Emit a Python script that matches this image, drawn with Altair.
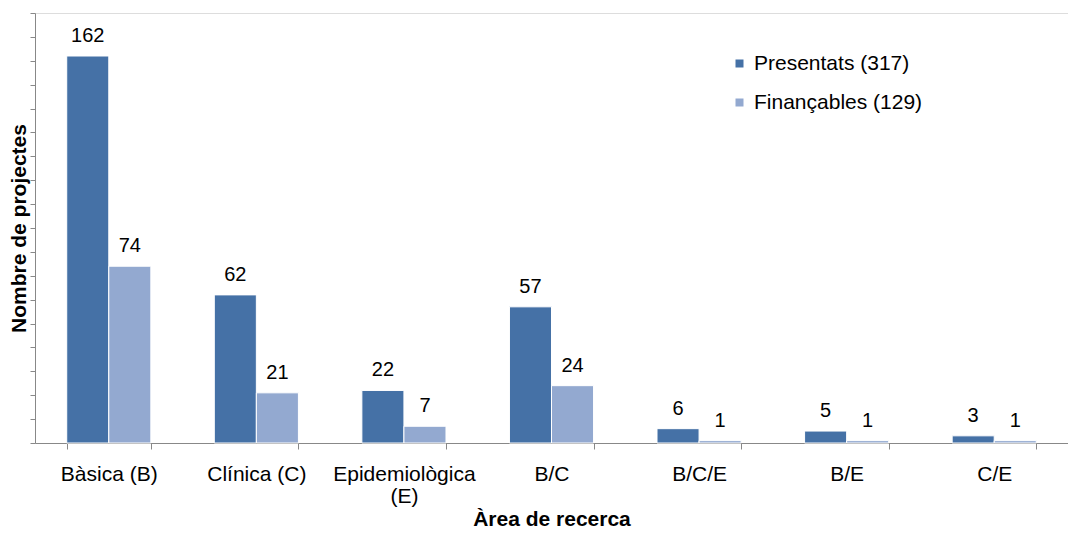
import altair as alt
import pandas as pd

categories = ["Bàsica (B)", "Clínica (C)", "Epidemiològica\n(E)", "B/C", "B/C/E", "B/E", "C/E"]
series = ["Presentats (317)", "Finançables (129)"]
presentats = [162, 62, 22, 57, 6, 5, 3]
financables = [74, 21, 7, 24, 1, 1, 1]
colors = ["#4571A6", "#93A9D0"]

rows = []
for c, p, f in zip(categories, presentats, financables):
    rows.append({"cat": c, "serie": series[0], "val": p})
    rows.append({"cat": c, "serie": series[1], "val": f})
df = pd.DataFrame(rows)

FONT = "Liberation Sans"

x = alt.X("cat:N", sort=categories, title="Àrea de recerca",
          scale=alt.Scale(paddingInner=0.43, paddingOuter=0.215),
          axis=alt.Axis(labelAngle=0, labelExpr="split(datum.label, '\\n')",
                        labelFontSize=21, labelFont=FONT, labelColor="#000",
                        labelPadding=14, labelLineHeight=22, labelLimit=300,
                        tickBand="extent", tickSize=6, tickColor="#888",
                        domainColor="#888", titleFont=FONT, titleFontSize=21,
                        titleFontWeight="bold", titleColor="#000", titlePadding=2))
xo = alt.XOffset("serie:N", sort=series)
y = alt.Y("val:Q", title="Nombre de projectes",
          scale=alt.Scale(domain=[0, 180], nice=False),
          axis=alt.Axis(values=list(range(0, 181, 10)), labels=False, grid=False,
                        tickSize=5, tickColor="#888", domainColor="#888",
                        titleFont=FONT, titleFontSize=21, titleFontWeight="bold",
                        titleColor="#000", titlePadding=0))
color = alt.Color("serie:N", sort=series,
                  scale=alt.Scale(domain=series, range=colors),
                  legend=alt.Legend(title=None, orient="none", legendX=694, legendY=40,
                                    symbolType="square", symbolSize=64,
                                    symbolStrokeWidth=0, labelFont=FONT,
                                    labelFontSize=21, labelColor="#000",
                                    labelLimit=400,
                                    rowPadding=17, labelOffset=4))

base = alt.Chart(df)
bars = base.mark_bar(stroke="white", strokeWidth=1).encode(x=x, xOffset=xo, y=y, color=color)
text = base.mark_text(baseline="alphabetic", dy=-14, font=FONT, fontSize=20, color="#000").encode(
    x=x, xOffset=xo, y=y, text="val:Q")

chart = (bars + text).properties(
    width=1033, height=430,
    autosize=alt.AutoSizeParams(type="none"),
    padding={"left": 27, "top": 5, "right": 0, "bottom": 85},
).configure_view(fill="#F2F2F2", stroke=None).configure(background="white")

chart.save("out.html", embed_options={"renderer": "svg", "actions": False})
